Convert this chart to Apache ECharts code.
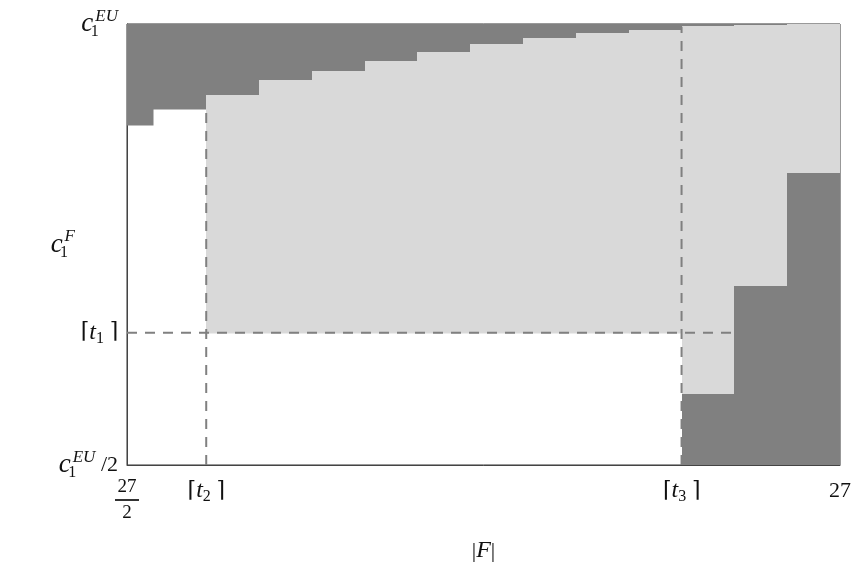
<!DOCTYPE html>
<html>
<head>
<meta charset="utf-8">
<script src="https://cdn.jsdelivr.net/npm/echarts@6/dist/echarts.min.js"></script>
<style>html,body{margin:0;padding:0;background:#fff;}#main{width:855px;height:571px;}</style>
</head>
<body>
<div id="main"></div>
<script>
// |F| step edges (x axis)
const xEdges = [13.5, 14, 15, 16, 17, 18, 19, 20, 21, 22, 23, 24, 25, 26, 27];
// lower edge of the dark region at the top (fraction of c1^EU), per step
const topDarkEdge = [0.8855, 0.904, 0.920, 0.936, 0.947, 0.958, 0.9686, 0.9773, 0.9838, 0.9894, 0.9932, 0.9977, 0.999, 1.0];
// upper edge of the dark region at the bottom, per step
const bottomDarkEdge = [0.5, 0.5, 0.5, 0.5, 0.5, 0.5, 0.5, 0.5, 0.5, 0.5, 0.5, 0.5805, 0.7033, 0.8314];
// thresholds
const t1 = 0.65;
const t2 = 15;
const t3 = 24;
const xMin = 13.5, xMax = 27;
const yMin = 0.5, yMax = 1.0;
// dashed guide extents
const t1LineEnd = 25;
const t2LineTop = 0.904;
const t3LineTop = 0.997;
// tick labels
const xTickValues = [13.5, 15, 24, 27];
const yTickValues = [0.5, 0.65, 1.0];

const DARK = '#808080', LIGHT = '#d9d9d9';
const rects = [];
for (let i = 0; i < xEdges.length - 1; i++) {
  const x0 = xEdges[i], x1 = xEdges[i + 1];
  if (topDarkEdge[i] < yMax) rects.push([x0, x1, topDarkEdge[i], yMax, 0]);
  if (x0 >= t2) {
    const lo = x0 >= t3 ? bottomDarkEdge[i] : t1;
    rects.push([x0, x1, lo, topDarkEdge[i], 1]);
  }
  if (bottomDarkEdge[i] > yMin) rects.push([x0, x1, yMin, bottomDarkEdge[i], 0]);
}
const fills = [DARK, LIGHT];

const serif = "'Liberation Serif','DejaVu Serif',serif";
const rich = {
  c: {fontFamily: serif, fontStyle: 'italic', fontSize: 27, color: '#111', lineHeight: 32, verticalAlign: 'middle'},
  t: {fontFamily: serif, fontStyle: 'italic', fontSize: 24, color: '#111', lineHeight: 28, verticalAlign: 'middle'},
  sup: {fontFamily: serif, fontStyle: 'italic', fontSize: 17, color: '#111', lineHeight: 17, verticalAlign: 'top'},
  s1: {fontFamily: serif, fontSize: 16, color: '#111', lineHeight: 15, verticalAlign: 'bottom', width: 1, align: 'left', padding: [0, 0, 0, 1]},
  sub: {fontFamily: serif, fontSize: 16, color: '#111', lineHeight: 14, verticalAlign: 'bottom'},
  n: {fontFamily: serif, fontSize: 22, color: '#111', lineHeight: 28, verticalAlign: 'middle'},
  fr: {fontFamily: serif, fontSize: 19, color: '#111', lineHeight: 20, align: 'center'},
  bar: {width: 24, height: 2, lineHeight: 6, fontSize: 2, backgroundColor: '#333', align: 'center'}
};

function yLabel(v) {
  if (Math.abs(v - yMax) < 1e-6) return '{c|c}{s1|1}{sup|EU}';
  if (Math.abs(v - t1) < 1e-6) return '{n|⌈}{t|t}{sub|1}{n| ⌉}';
  if (Math.abs(v - yMin) < 1e-6) return '{c|c}{s1|1}{sup|EU}{n| /2}';
  return '';
}
function xLabel(v) {
  if (Math.abs(v - xMin) < 1e-6) return '{fr|27}\n{bar| }\n{fr|2}';
  if (Math.abs(v - t2) < 1e-6) return '{n|⌈}{t|t}{sub|2}{n| ⌉}';
  if (Math.abs(v - t3) < 1e-6) return '{n|⌈}{t|t}{sub|3}{n| ⌉}';
  if (Math.abs(v - xMax) < 1e-6) return '{n|27}';
  return '';
}

const dashStyle = {color: '#808080', width: 2, type: [10, 8]};

const chart = echarts.init(document.getElementById('main'), null, {renderer: 'canvas'});
chart.setOption({
  animation: false,
  backgroundColor: '#fff',
  grid: {left: 127, right: 15, top: 24, bottom: 106, outerBoundsMode: 'none', containLabel: false,
         show: true, borderColor: '#333', borderWidth: 1, backgroundColor: 'transparent'},
  xAxis: {
    type: 'value', min: xMin, max: xMax,
    name: '{n||}{t|F}{n||}', nameLocation: 'middle', nameGap: 72, nameMoveOverlap: false,
    nameTextStyle: {rich: rich},
    axisLine: {show: true, lineStyle: {color: '#444', width: 1}},
    axisTick: {show: false},
    splitLine: {show: false},
    axisLabel: {customValues: xTickValues, formatter: xLabel, rich: rich, margin: 12, showMinLabel: true, showMaxLabel: true}
  },
  yAxis: {
    type: 'value', min: yMin, max: yMax,
    name: '{c|c}{s1|1}{sup|F}', nameLocation: 'middle', nameGap: 52, nameRotate: 0, nameMoveOverlap: false,
    nameTextStyle: {rich: rich},
    axisLine: {show: true, lineStyle: {color: '#444', width: 1}},
    axisTick: {show: false},
    splitLine: {show: false},
    axisLabel: {customValues: yTickValues, formatter: yLabel, rich: rich, margin: 9, showMinLabel: true, showMaxLabel: true}
  },
  series: [
    {
      type: 'custom', silent: true, clip: true, z: 1,
      data: rects,
      renderItem: function (params, api) {
        const pTop = api.coord([api.value(0), api.value(3)]);
        const pBot = api.coord([api.value(1), api.value(2)]);
        const x0 = Math.round(pTop[0]), x1 = Math.round(pBot[0]);
        const y0 = Math.round(pTop[1]), y1 = Math.round(pBot[1]);
        return {
          type: 'rect',
          shape: {x: x0, y: y0, width: x1 - x0 + 0.5, height: y1 - y0 + 0.5},
          style: {fill: fills[api.value(4)]}
        };
      }
    },
    {type: 'line', silent: true, symbol: 'none', z: 3, lineStyle: dashStyle, data: [[xMin, t1], [t1LineEnd, t1]]},
    {type: 'line', silent: true, symbol: 'none', z: 3, lineStyle: dashStyle, data: [[t2, yMin], [t2, t2LineTop]]},
    {type: 'line', silent: true, symbol: 'none', z: 3, lineStyle: dashStyle, data: [[t3, yMin], [t3, t3LineTop]]}
  ]
});
</script>
</body>
</html>
